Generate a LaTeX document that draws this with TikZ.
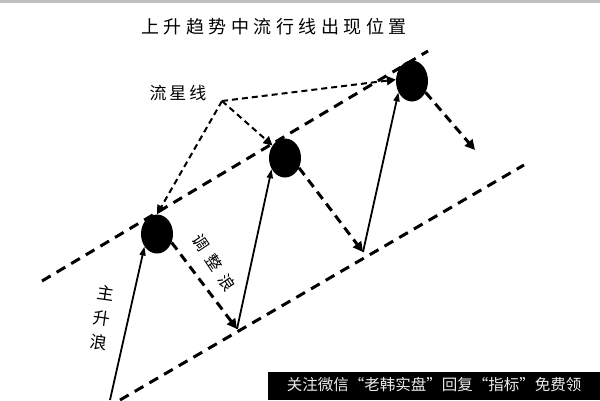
\documentclass[tikz,border=0pt]{standalone}
\usepackage{fontspec}
\newfontfamily\cjk{Noto Sans CJK SC}
\newfontfamily\cjktitle[LetterSpace=25]{Noto Sans CJK SC}
\usetikzlibrary{arrows.meta,shapes.geometric}
\begin{document}
\begin{tikzpicture}[x=1pt,y=-1pt,
  ball/.style={ellipse, fill=black, minimum width=32pt, minimum height=39pt, inner sep=0pt},
  channel/.style={line width=3pt, dash pattern=on 10pt off 7pt},
  pull/.style={line width=3pt, dash pattern=on 9pt off 6pt, -{Triangle[length=10pt,width=10pt]}},
  rise/.style={line width=1.8pt, -{Triangle[length=9pt,width=6pt]}},
  meteor/.style={line width=2pt, dash pattern=on 6pt off 4pt, -{Triangle[length=9pt,width=9pt]}},
  lbl/.style={font=\cjk\fontsize{17}{25}\selectfont, inner sep=0pt}]
\useasboundingbox (0,0) rectangle (600,400);
\fill[white] (0,0) rectangle (600,400);
\fill[black!25] (0,0) rectangle (600,2.5);

% title
\node[font=\cjktitle\fontsize{18}{20}\selectfont, inner sep=0pt] (title) at (274,27) {上升趋势中流行线出现位置};

% channel lines
\coordinate (u1) at (42,281);
\coordinate (u2) at (428,51);
\coordinate (l1) at (120,400);
\coordinate (l2) at (524,165);
\draw[channel] (u1) -- (u2);
\draw[channel] (l1) -- (l2);

% balls
\node[ball] (b1) at (157,234) {};
\node[ball] (b2) at (285,158) {};
\node[ball, minimum height=41pt] (b3) at (412,81) {};

% turning points
\coordinate (s0) at (110,400);
\coordinate (t1) at (237,329);
\coordinate (t2) at (363,252);
\coordinate (e3) at (475,150);

% rising waves
\draw[rise] (s0) -- (b1.225);
\draw[rise] (t1) -- (b2.220);
\draw[rise] (t2) -- (b3.220);

% pullback waves
\draw[pull] (b1.-30) -- (t1);
\draw[pull] (b2.-35) -- (t2);
\draw[pull] (b3.-40) -- (e3);

% meteor label
\node[font=\cjk\fontsize{17}{20}\selectfont, inner sep=0pt] (mlabel) at (178,93) {流\hspace{3pt}星\hspace{3pt}线};
\coordinate (apex) at (222,101);
\draw[meteor] (apex) -- (b1.90);
\draw[meteor] (apex) -- (b2.135);
\draw[meteor] (apex) -- (b3.175);

% wave labels
\node[lbl, align=center, rotate=-8] (main) at (102,318) {主\\升\\浪};
\node[font=\cjk\fontsize{16}{18}\selectfont, inner sep=0pt, rotate=-56] (adj) at (214,263) {调\hspace{8pt}整\hspace{8pt}浪};

% watermark bar
\fill[black] (268,372) rectangle (600,400);
\node[font=\cjk\fontsize{15.5}{17}\selectfont, text=white!92!black, inner sep=0pt] (wm) at (434,385) {关注微信“老韩实盘”回复“指标”免费领};
\end{tikzpicture}
\end{document}
